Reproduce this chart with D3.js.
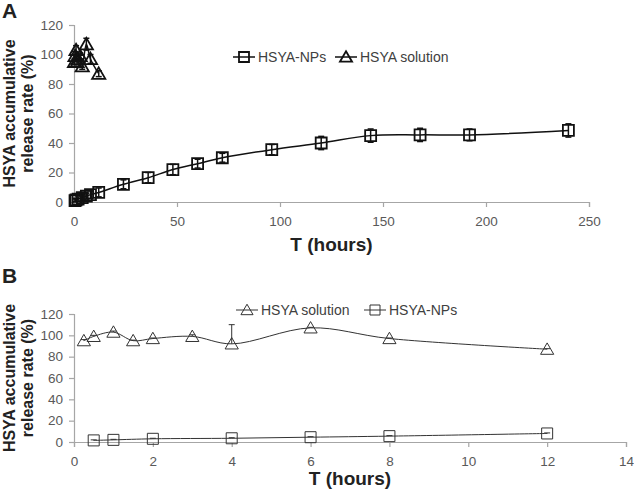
<!DOCTYPE html>
<html>
<head>
<meta charset="utf-8">
<script src="https://cdn.jsdelivr.net/npm/d3@7"></script>
<style>
  body { margin: 0; background: #fff; }
  svg { display: block; font-family: Arial, "Liberation Sans", sans-serif; }
</style>
</head>
<body>
<svg id="chart" width="634" height="495"></svg>
<script>
// Panel A: HSYA-NPs over 240 h
const hoursNpA = [0.5, 1, 2, 4, 6, 8, 12, 24, 36, 48, 60, 72, 96, 120, 144, 168, 192, 240];
const releaseNpA = [1, 1.5, 2, 3, 4, 5, 6.5, 12, 16.5, 22, 26, 30, 35.5, 40, 45, 45.5, 45.5, 48.5];
const errNpA = [1, 1, 1.5, 2, 2, 2.5, 3, 3, 3.5, 3.5, 3, 3, 3.5, 4.5, 4.5, 4.5, 4, 4.5];

// HSYA solution (same points in both panels)
const hoursSol = [0.25, 0.5, 1, 1.5, 2, 3, 4, 6, 8, 12];
const releaseSol = [95, 99, 103, 95, 97, 99, 92, 107, 97, 87];
const errSolA = [2, 3, 3, 2, 2, 2, 2, 4, 3, 2];
const errSolB = [1, 1, 1, 0.5, 0.5, 1.5, 18, 0.5, 0.5, 0.5];

// Panel B: HSYA-NPs over first 12 h
const hoursNpB = [0.5, 1, 2, 4, 6, 8, 12];
const releaseNpB = [1.5, 2, 3, 3.5, 4.5, 5.5, 8];
const errNpB = [0.5, 0.5, 0.5, 0.5, 0.5, 0.5, 0.5];

const yTicks = [0, 20, 40, 60, 80, 100, 120];
const xTicksA = [0, 50, 100, 150, 200, 250];
const xTicksB = [0, 2, 4, 6, 8, 10, 12, 14];

const svg = d3.select('#chart');
const axisColor = '#a6a6a6';
const tickText = '#595959';

function zip(xs, ys, es) {
    return xs.map((x, i) => ({ x: x, y: ys[i], e: es[i] }));
}

function squarePath(s) {
    const h = s / 2;
    return `M${-h},${-h}H${h}V${h}H${-h}Z`;
}
function trianglePath(s) {
    const h = s / 2;
    return `M0,${-h * 1.05}L${h * 1.1},${h * 0.85}L${-h * 1.1},${h * 0.85}Z`;
}

function drawPanel(p) {
    const g = svg.append('g');
    const x = d3.scaleLinear().domain(p.xDomain).range([p.left, p.right]);
    const y = d3.scaleLinear().domain([0, 120]).range([p.bottom, p.top]);

    // axes
    const xAxis = g.append('g')
        .attr('transform', `translate(0,${p.bottom})`)
        .call(d3.axisBottom(x).tickValues(p.xTicks).tickSize(5).tickPadding(9));
    const yAxis = g.append('g')
        .attr('transform', `translate(${p.left},0)`)
        .call(d3.axisLeft(y).tickValues(yTicks).tickSize(5).tickPadding(6));
    [xAxis, yAxis].forEach(a => {
        a.select('.domain').attr('stroke', axisColor).attr('stroke-width', 1.2);
        a.selectAll('.tick line').attr('stroke', axisColor).attr('stroke-width', 1.2);
        a.selectAll('.tick text')
            .attr('fill', tickText)
            .style('font-size', '13.5px')
            .style('font-family', 'Arial, "Liberation Sans", sans-serif');
    });

    // panel letter
    g.append('text')
        .attr('x', 2).attr('y', p.letterY)
        .style('font-size', '21px').style('font-weight', 'bold')
        .attr('fill', '#222')
        .text(p.letter);

    // y title
    const cy = (p.top + p.bottom) / 2;
    const yt = g.append('text')
        .attr('transform', `translate(15,${cy}) rotate(-90)`)
        .attr('text-anchor', 'middle')
        .style('font-size', '16px').style('font-weight', 'bold')
        .attr('fill', '#222');
    yt.append('tspan').attr('x', 0).attr('dy', 0).text('HSYA accumulative');
    yt.append('tspan').attr('x', 0).attr('dy', 18).text('release rate (%)');

    // x title
    g.append('text')
        .attr('x', (p.left + p.right) / 2).attr('y', p.xTitleY)
        .attr('text-anchor', 'middle')
        .style('font-size', '19px').style('font-weight', 'bold')
        .attr('fill', '#222')
        .text('T (hours)');

    const line = d3.line()
        .x(d => x(d.x)).y(d => y(d.y))
        .curve(d3.curveCatmullRom.alpha(0.5));

    p.series.forEach(s => {
        g.append('path')
            .datum(s.data)
            .attr('d', line)
            .attr('fill', 'none')
            .attr('stroke', s.color)
            .attr('stroke-width', s.width);

        // error bars
        const eb = g.append('g').attr('stroke', s.color).attr('stroke-width', s.width);
        s.data.forEach(d => {
            const lo = s.plusOnly ? d.y : d.y - d.e;
            const hi = d.y + d.e;
            eb.append('line')
                .attr('x1', x(d.x)).attr('x2', x(d.x))
                .attr('y1', y(lo)).attr('y2', y(hi));
            eb.append('line')
                .attr('x1', x(d.x) - 3).attr('x2', x(d.x) + 3)
                .attr('y1', y(hi)).attr('y2', y(hi));
            if (!s.plusOnly) {
                eb.append('line')
                    .attr('x1', x(d.x) - 3).attr('x2', x(d.x) + 3)
                    .attr('y1', y(lo)).attr('y2', y(lo));
            }
        });

        // markers
        g.append('g').selectAll('path')
            .data(s.data)
            .join('path')
            .attr('transform', d => `translate(${x(d.x)},${y(d.y)})`)
            .attr('d', s.shape === 'square' ? squarePath(s.size) : trianglePath(s.size))
            .attr('fill', 'none')
            .attr('stroke', s.color)
            .attr('stroke-width', s.markerWidth);
    });

    // legend
    p.legend.forEach(l => {
        const s = p.series[l.idx];
        const lg = g.append('g');
        lg.append('line')
            .attr('x1', l.x).attr('x2', l.x + 22)
            .attr('y1', p.legendY).attr('y2', p.legendY)
            .attr('stroke', s.color).attr('stroke-width', s.width);
        lg.append('path')
            .attr('transform', `translate(${l.x + 11},${p.legendY})`)
            .attr('d', s.shape === 'square' ? squarePath(s.size - 1) : trianglePath(s.size - 1))
            .attr('fill', 'none')
            .attr('stroke', s.color)
            .attr('stroke-width', s.markerWidth);
        lg.append('text')
            .attr('x', l.x + 25).attr('y', p.legendY)
            .attr('dy', '0.35em')
            .style('font-size', '14px')
            .attr('fill', '#404040')
            .text(s.name);
    });
}

drawPanel({
    letter: 'A', letterY: 18,
    left: 74, right: 589, top: 25, bottom: 202,
    xDomain: [0, 250], xTicks: xTicksA, xTitleY: 251,
    legendY: 57,
    series: [
        { name: 'HSYA-NPs', data: zip(hoursNpA, releaseNpA, errNpA), shape: 'square', size: 11,
          color: '#111', width: 1.5, markerWidth: 1.8 },
        { name: 'HSYA solution', data: zip(hoursSol, releaseSol, errSolA), shape: 'triangle', size: 12,
          color: '#111', width: 1.5, markerWidth: 1.8 }
    ],
    legend: [{ idx: 0, x: 233 }, { idx: 1, x: 335 }]
});

drawPanel({
    letter: 'B', letterY: 283,
    left: 74, right: 626, top: 314, bottom: 442,
    xDomain: [0, 14], xTicks: xTicksB, xTitleY: 485,
    legendY: 310,
    series: [
        { name: 'HSYA solution', data: zip(hoursSol, releaseSol, errSolB), shape: 'triangle', size: 12,
          color: '#333', width: 1, markerWidth: 1, plusOnly: true },
        { name: 'HSYA-NPs', data: zip(hoursNpB, releaseNpB, errNpB), shape: 'square', size: 11,
          color: '#333', width: 1, markerWidth: 1, plusOnly: true }
    ],
    legend: [{ idx: 0, x: 236 }, { idx: 1, x: 364 }]
});
</script>
</body>
</html>
